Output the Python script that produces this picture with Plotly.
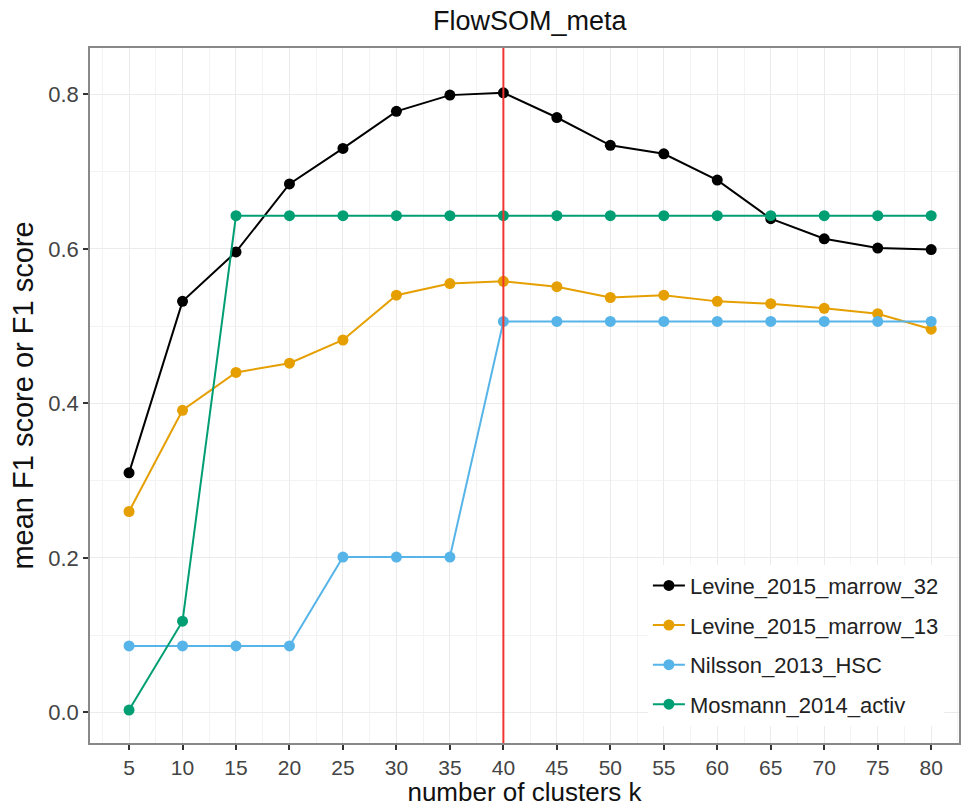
import plotly.graph_objects as go

k = [5, 10, 15, 20, 25, 30, 35, 40, 45, 50, 55, 60, 65, 70, 75, 80]

levine_32 = [0.310, 0.532, 0.596, 0.684, 0.730, 0.778, 0.799, 0.802, 0.770, 0.734,
             0.723, 0.689, 0.639, 0.613, 0.601, 0.599]
levine_13 = [0.260, 0.391, 0.440, 0.452, 0.482, 0.540, 0.555, 0.558, 0.551, 0.537,
             0.540, 0.532, 0.529, 0.523, 0.516, 0.496]
nilsson = [0.086, 0.086, 0.086, 0.086, 0.201, 0.201, 0.201, 0.506, 0.506, 0.506,
           0.506, 0.506, 0.506, 0.506, 0.506, 0.506]
mosmann = [0.003, 0.118, 0.643, 0.643, 0.643, 0.643, 0.643, 0.643, 0.643, 0.643,
           0.643, 0.643, 0.643, 0.643, 0.643, 0.643]

series_names = ["Levine_2015_marrow_32", "Levine_2015_marrow_13",
                "Nilsson_2013_HSC", "Mosmann_2014_activ"]
series_values = [levine_32, levine_13, nilsson, mosmann]
series_colors = ["#000000", "#E69F00", "#56B4E9", "#009E73"]

best_k = 40
x_ticks = k
y_ticks = [0.0, 0.2, 0.4, 0.6, 0.8]

FONT = "Liberation Sans, Arial, sans-serif"

fig = go.Figure()
for name, vals, col in zip(series_names, series_values, series_colors):
    fig.add_trace(go.Scatter(
        x=k, y=vals, mode="lines+markers", name=name, legendgroup=name,
        line=dict(color=col, width=2),
        marker=dict(color=col, size=11),
    ))

fig.add_vline(x=best_k, line=dict(color="#F0352F", width=2))

fig.update_layout(
    width=963, height=807,
    margin=dict(l=90, r=4, t=48, b=64),
    paper_bgcolor="white", plot_bgcolor="white",
    font=dict(family=FONT, size=20, color="#222"),
    title=dict(text="FlowSOM_meta", x=0.506, xref="paper", xanchor="center",
               y=0.974, yanchor="middle", yref="container",
               font=dict(size=27, color="#111")),
    showlegend=True,
    legend=dict(x=0.642, y=0.025, xanchor="left", yanchor="bottom",
                bgcolor="white", borderwidth=0, tracegroupgap=8,
                font=dict(size=22, color="#222"),
                itemwidth=32),
)

fig.update_xaxes(
    range=[1.35, 82.6], tickvals=x_ticks, ticktext=[str(v) for v in x_ticks],
    showgrid=True, gridcolor="#EBEBEB", gridwidth=1.2,
    minor=dict(dtick=2.5, tick0=2.5, showgrid=True, gridcolor="#F3F3F3", gridwidth=0.8),
    ticks="outside", ticklen=5, tickwidth=2, tickcolor="#333",
    tickfont=dict(size=21, color="#444"),
    showline=True, linecolor="#888", linewidth=1.5, mirror=True,
    zeroline=False, automargin=False,
    title=dict(text="number of clusters k", font=dict(size=26, color="#111"), standoff=3),
)
fig.update_yaxes(
    range=[-0.0397, 0.860], tickvals=y_ticks, ticktext=["0.0", "0.2", "0.4", "0.6", "0.8"],
    showgrid=True, gridcolor="#EBEBEB", gridwidth=1.2,
    minor=dict(dtick=0.1, tick0=0.1, showgrid=True, gridcolor="#F3F3F3", gridwidth=0.8),
    ticks="outside", ticklen=5, tickwidth=2, tickcolor="#333",
    tickfont=dict(size=22, color="#444"),
    showline=True, linecolor="#888", linewidth=1.5, mirror=True,
    zeroline=False, automargin=False,
    title=dict(text="mean F1 score or F1 score", font=dict(size=29, color="#111"), standoff=6),
)

fig.write_html(
    "out.html",
    config={"displayModeBar": False},
    post_script="document.body.style.margin='0';document.body.style.overflow='hidden';",
)
